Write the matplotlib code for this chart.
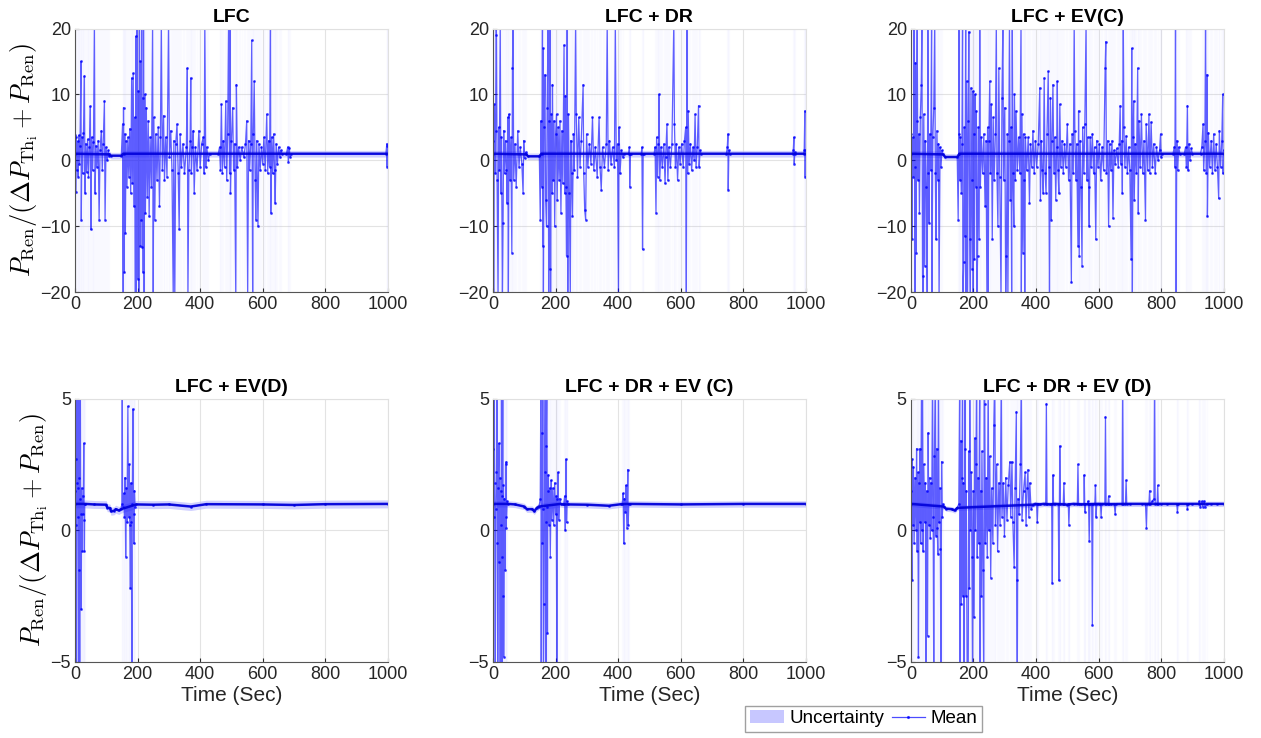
import numpy as np
import matplotlib.pyplot as plt
from matplotlib.patches import Patch
from matplotlib.lines import Line2D

plt.rcParams['font.family'] = ['Liberation Sans', 'DejaVu Sans']
plt.rcParams['mathtext.fontset'] = 'cm'

# ======================== data ========================
# (time, value) points of the mean curve inside the noisy bursts
lfc_pts = [(1,3.8),(2,-4.8),(4,3.5),(6,-1.5),(8,2.9),(10,-2.5),(12,3.8),(14,-0.5),(16,2.2),(19,15.0),
           (20,-9.0),(22,3.5),(24,-2.0),(27,4.2),(30,12.8),(32,-5.0),(34,2.5),(37,-1.8),(40,3.2),(43,-2.5),
           (46,2.0),(49,8.2),(51,-10.5),(53,3.5),(56,-1.5),(59,2.8),(62,21),(64,-5.0),(67,2.2),(70,-1.0),
           (74,3.0),(77,-9.0),(80,1.5),(84,4.5),(87,-1.5),(90,2.5),(94,9.0),(96,-9.0),(99,2.0),(103,0.0),
           (106,1.5),(109,0.6),
           (152,5.5),(154,-21),(155,8.0),(157,-17),(159,4.0),(161,-11),(163,3.0),(166,-4.0),(169,3.5),(172,-2.5),
           (175,4.8),(178,-5.0),(181,12.5),(183,-3.5),(186,13.2),(188,-7.0),(191,6.5),(193,-21),(194,18.8),(196,-21),
           (198,21),(200,-18),(202,10.5),(204,-21),(206,21),(208,-13),(209,15.0),(211,-9.0),(213,21),(215,-13.2),
           (216,9.5),(218,-17.0),(219,21),(221,-21),(223,10.0),(225,-8.0),(228,8.0),(231,-5.5),(234,6.0),(237,-8.5),
           (240,3.5),(244,-4.0),(248,21),(250,-21),(252,6.5),(255,-9.0),(258,4.0),(262,-3.0),(266,5.0),(270,-7.0),
           (273,3.5),(276,21),(279,-1.5),(283,6.8),(286,-3.0),(290,3.5),(294,-2.5),(299,21),(302,0.5),(306,4.5),
           (310,-1.5),(314,-21),(316,3.0),(319,-21),(322,2.5),(326,5.5),(330,-2.0),(333,-10.5),(336,4.0),(340,-1.0),
           (345,2.5),(350,-2.0),(356,2.0),(359,14.0),(361,-21),(364,-1.5),(368,3.0),(370,12.5),(372,-2.0),(375,2.0),
           (378,4.5),(381,-5.0),(385,2.0),(390,-1.5),(396,4.5),(400,-1.0),(405,2.5),(410,3.5),(413,-2.0),(415,21),
           (418,-1.0),(421,2.0),(426,0.0),
           (462,2.0),(465,-1.5),(468,8.5),(471,-2.0),(474,3.0),(478,-1.0),(482,9.0),(485,-3.0),(488,4.0),(491,21),
           (494,-2.0),(496,21),(497,-5.0),(500,3.0),(504,8.0),(507,-1.5),(510,2.5),(514,-21),(516,11.5),(519,-1.0),
           (523,2.0),(528,0.0),(533,2.0),(540,0.5),(545,2.5),(549,6.0),(552,-21),(555,3.0),(558,-1.5),(562,2.5),
           (565,18.2),(568,-21),(570,4.0),(573,12.0),(576,-3.0),(578,-9.0),(581,3.0),(585,-10.0),(588,2.5),(592,-1.5),
           (596,2.0),(600,-0.5),(604,3.5),(608,-1.5),(613,7.0),(616,-2.0),(619,3.0),(622,-1.0),(625,21),(626,-8.0),
           (629,3.5),(632,-2.0),(635,4.0),(638,-1.5),(640,-6.5),(643,2.5),(647,-0.5),(651,2.0),(655,0.5),(658,1.5),
           (680,2.0),(682,-0.2),(685,1.8),(688,0.5),(997,2.5),(998,-1.0),(999,2.2)]
lfc_base = [(0,1.0),(110,0.9),(115,0.7),(148,0.7),(155,1.0),(430,1.0),(458,1.0),(662,1.0),(676,1.0),(692,1.0),(994,1.0),(1000,1.0)]

dr_pts = [(1,3.0),(2,-21),(4,8.5),(6,-2.0),(8,4.5),(10,21),(11,19.0),(13,-3.0),(16,-21),(18,5.0),
          (20,-1.5),(23,21),(25,-5.0),(27,3.5),(30,-21),(32,-9.5),(34,4.5),(37,-2.0),(40,3.0),(43,-1.5),
          (45,-6.5),(47,6.5),(49,-21),(51,7.0),(54,-3.0),(57,3.5),(60,-14.0),(62,14.0),(64,21),(66,-3.0),
          (70,2.5),(74,-4.0),(79,4.5),(83,-1.0),(87,2.0),(92,-0.5),(96,-5.0),(98,3.0),(101,0.3),(104,1.2),
          (151,-9.0),(153,6.0),(156,-4.0),(158,21),(159,-13.0),(160,17.0),(161,-21),(163,5.0),(166,13.0),(168,-6.0),
          (171,-10.0),(173,8.0),(176,21),(178,-21),(179,6.0),(181,-16.5),(182,21),(184,-21),(186,7.0),(188,-5.0),
          (190,11.5),(192,-3.0),(195,6.0),(197,-10.0),(200,4.0),(203,7.0),(205,-6.0),(208,5.0),(211,-3.0),(214,6.0),
          (217,-8.0),(220,4.5),(223,-3.5),(227,17.5),(229,-5.0),(231,9.8),(233,-4.0),(235,-14.5),(237,21),(239,-21),
          (241,7.0),(244,-5.0),(247,-21),(249,3.0),(251,-2.0),(254,-8.5),(257,4.0),(260,-1.5),(264,21),(266,7.0),
          (270,-2.5),(274,6.5),(278,-1.0),(282,3.0),(288,11.5),(290,-2.0),(293,-7.5),(296,-9.0),(299,4.0),(303,-1.0),
          (308,2.5),(313,-0.5),(318,6.5),(322,-1.5),(327,2.0),(333,-2.5),(339,6.5),(342,-1.0),(346,-4.5),(350,2.0),
          (356,-1.0),(362,2.5),(365,21),(368,-1.5),(372,3.0),(377,-0.5),(382,2.0),(388,-1.0),(391,21),(394,0.0),
          (398,2.5),(401,-21),(403,5.0),(406,-2.0),(410,1.5),(415,0.5),
          (436,2.0),(437,-4.0),(439,1.0),(476,2.0),(478,-13.5),(480,1.0),
          (518,2.0),(521,-8.0),(523,3.5),(526,-2.5),(529,2.5),(531,10.0),(533,-3.0),(537,2.0),(541,-1.0),(546,2.5),
          (550,-3.5),(552,0.5),(556,5.5),(559,-3.0),(562,2.0),(567,-1.0),(572,2.5),(578,21),(580,5.5),(583,-1.0),
          (586,2.5),(590,-3.0),(594,2.0),(598,-0.5),(603,2.5),(608,-1.0),(612,3.0),(616,5.0),(618,-21),(620,21),
          (622,-2.0),(624,7.5),(627,-0.5),(631,2.5),(635,-1.5),(639,2.0),(643,0.0),(646,7.0),(649,-1.0),(653,2.0),
          (657,8.3),(659,-1.0),(662,1.5),
          (749,2.0),(751,4.0),(752,-4.5),(754,1.5),
          (960,1.5),(962,3.5),(963,-0.5),(965,1.2),(995,1.5),(997,7.5),(998,-2.5),(999,1.5)]
dr_base = [(0,1.0),(106,0.9),(112,0.6),(148,0.6),(155,1.0),(418,1.0),(434,1.0),(441,1.0),(474,1.0),(482,1.0),(515,1.0),
           (665,1.0),(746,1.0),(757,1.0),(958,1.0),(967,1.0),(993,1.0),(1000,1.0)]

evc_pts = [(1,4.0),(3,-12.0),(5,3.5),(8,-2.5),(10,21),(12,-1.0),(13,-21),(14,14.8),(16,-14.0),(18,6.0),
           (20,21),(22,-3.0),(25,4.0),(27,-8.0),(30,6.5),(33,11.5),(35,21),(37,-17.5),(39,-21),(41,7.0),
           (44,-16.0),(46,3.0),(49,-4.0),(52,-21),(54,21),(56,-2.0),(58,-9.5),(60,4.0),(63,-1.5),(66,21),
           (67,-21),(70,3.5),(73,8.0),(76,21),(78,-2.0),(80,-12.0),(83,4.5),(86,-3.0),(88,2.5),(90,-21),
           (93,2.0),(96,-1.0),(99,1.5),
           (151,-9.0),(153,4.0),(154,21),(156,-3.0),(158,3.5),(161,-5.0),(163,2.5),(165,21),(166,-21),(169,-15.5),
           (171,5.0),(173,-11.5),(175,21),(176,-21),(178,12.0),(181,-21),(183,6.0),(185,19.5),(188,-12.0),(190,-21),
           (192,11.0),(194,-3.0),(196,-16.5),(198,10.5),(199,-21),(201,4.0),(203,-15.0),(205,10.0),(207,-4.0),(209,7.5),
           (211,-21),(213,-14.5),(215,5.0),(218,-12.0),(220,21),(222,-4.0),(225,3.5),(229,-2.0),(233,4.0),(237,-7.0),
           (240,3.0),(243,-21),(245,5.0),(247,-21),(249,3.0),(252,12.0),(254,-2.0),(257,8.5),(260,-12.0),(263,6.5),
           (266,-3.0),(270,4.0),(273,21),(275,-2.0),(278,-10.0),(281,14.0),(284,-2.5),(288,-21),(291,9.5),(294,21),
           (296,-3.0),(300,8.0),(303,-21),(305,-14.5),(308,4.0),(310,-21),(313,3.0),(315,21),(318,-6.0),(320,5.0),
           (322,-21),(324,21),(326,-2.0),(329,-10.0),(331,10.0),(334,-3.0),(336,7.5),(340,-1.5),(344,3.5),(348,-2.0),
           (352,21),(353,-21),(355,7.0),(358,-14.0),(360,4.0),(362,-3.0),(364,-21),(366,3.5),(370,-1.5),(375,3.5),
           (379,-6.5),(382,2.5),(386,-1.0),(390,4.5),(394,-2.0),(398,3.0),(402,-1.0),(407,2.5),(412,11.0),(414,-6.0),
           (417,3.0),(420,-1.5),(423,-5.0),(426,12.5),(429,-2.0),(432,-5.0),(435,4.0),(439,13.5),(441,-1.0),(443,-21),
           (446,9.5),(449,-9.0),(451,3.0),(454,11.5),(457,-2.0),(460,3.5),(463,-6.0),(466,2.0),(468,12.0),(470,-1.5),
           (473,-5.0),(476,8.5),(479,-1.0),(483,3.0),(487,-2.0),(491,2.5),(495,-1.0),(500,5.5),(504,-3.0),(508,2.5),
           (513,-18.5),(515,4.0),(519,-2.0),(522,21),(524,4.5),(527,-3.0),(530,2.5),(534,-13.0),(536,7.5),(538,-14.5),
           (541,3.0),(544,-4.0),(547,-16.0),(549,5.0),(553,-2.0),(556,5.5),(560,21),(562,-3.0),(565,3.5),(568,-4.0),
           (570,-10.0),(573,3.5),(576,-1.0),(580,4.0),(584,-2.0),(587,2.0),(591,-12.0),(594,3.0),(598,-1.0),(602,2.5),
           (607,-3.0),(611,2.0),(616,-1.5),(621,14.0),(623,18.0),(625,-2.0),(629,3.0),(632,-10.0),(635,2.5),(639,-1.5),
           (643,3.0),(646,-8.8),(649,1.5),(653,-0.5),(658,1.8),(663,-1.0),(666,2.5),(669,8.3),(671,-0.5),(674,3.0),
           (676,-5.0),(679,21),(681,5.0),(684,-1.0),(688,3.7),(692,-2.0),(696,2.0),(700,-1.5),(704,-15.0),(706,17.0),
           (708,-21),(710,3.5),(712,9.0),(714,-6.0),(717,2.5),(721,-2.0),(725,14.0),(727,-8.0),(729,6.0),(733,-1.0),
           (737,7.0),(741,-2.0),(745,3.0),(750,-9.0),(752,5.5),(757,-1.5),(761,7.0),(764,-2.0),(768,5.8),(772,-1.0),
           (776,2.5),(781,-2.0),(785,2.0),(790,0.0),(795,1.5),(798,4.0),(800,0.5),
           (842,2.0),(844,-1.0),(846,21),(848,-21),(850,3.0),(853,-1.5),(856,2.0),
           (878,2.0),(881,-1.0),(884,8.3),(886,-1.5),(889,2.5),(892,0.0),(896,1.8),
           (930,2.0),(934,5.5),(936,-1.5),(940,3.0),(942,21),(944,-2.0),(947,13.0),(948,-8.5),(951,4.2),(955,-1.0),
           (960,3.0),(964,-2.0),(968,4.0),(972,-1.5),(976,2.5),(980,-1.0),(984,-5.8),(986,4.5),(990,-1.0),(994,3.0),
           (997,10.0),(998,-2.0),(1000,1.5)]
evc_base = [(0,1.0),(102,0.9),(110,0.5),(148,0.5),(155,1.0),(803,1.0),(838,1.0),(860,1.0),(874,1.0),(900,1.0),(926,1.0),(1000,1.0)]

evd_pts = [(1,1.5),(2,2.7),(3,0.2),(4,-6),(5,1.8),(6,6),(8,0.5),(9,1.6),(11,-6),(12,2.0),
           (13,6),(14,-1.5),(15,-6),(16,1.2),(17,6),(18,0.6),(20,-3.0),(21,1.6),(23,-0.8),(24,1.3),
           (26,0.6),(28,3.3),(29,0.4),(30,-0.8),(31,1.0),
           (150,1.0),(151,6),(152,0.9),(155,1.4),(158,0.5),(160,2.0),(162,-1.0),(164,1.6),(166,0.3),(169,4.7),
           (171,0.5),(173,2.5),(175,0.2),(177,-2.2),(179,1.8),(180,0.3),(182,-6),(183,1.0),(185,4.6),(187,0.6),
           (188,-0.5),(190,1.5),(192,0.9)]
evd_base = [(0,1.0),(33,1.0),(60,0.98),(100,0.97),(103,0.86),(112,0.84),(115,0.72),(125,0.74),(130,0.8),(140,0.75),(147,0.8),
            (196,0.98),(250,0.97),(300,0.98),(370,0.9),(420,0.99),(600,0.98),(700,0.96),(800,0.99),(1000,1.0)]

drevc_pts = [(0,3.1),(2,0.5),(4,6),(5,1.8),(7,-6),(9,0.8),(11,2.2),(13,6),(14,-0.5),(15,-6),
             (17,1.6),(19,3.3),(20,-1.2),(21,2.0),(23,-6),(24,1.5),(26,0.2),(27,6),(28,-1.0),(29,-6),
             (30,1.3),(31,6),(32,-2.5),(33,1.7),(34,-4.8),(36,1.2),(38,-1.5),(40,2.5),(41,0.1),(42,2.6),
             (43,0.5),(45,1.1),
             (151,1.2),(153,6),(154,-6),(156,3.7),(157,-0.5),(159,6),(160,0.8),(161,-6),(163,-2.8),(165,2.2),
             (167,6),(168,0.3),(169,-6),(170,3.2),(172,6),(173,0.9),(174,-3.9),(175,1.5),(177,2.1),(179,0.2),
             (181,1.6),(183,-1.0),(186,1.9),(188,0.4),(191,1.6),(194,0.2),(197,1.8),(200,0.6),(202,1.3),(204,-5.2),
             (206,1.2),(208,2.2),(210,0.4),(213,1.2),
             (226,1.0),(229,1.3),(231,0.0),(233,2.7),(235,0.3),(237,1.1),
             (413,1.0),(416,1.4),(418,-0.5),(420,1.2),(423,0.7),(425,1.7),(428,0.1),(431,2.3),(432,0.2),(434,1.0)]
drevc_base = [(0,1.0),(48,1.0),(70,0.98),(100,0.9),(108,0.8),(125,0.8),(132,0.72),(140,0.85),(147,0.9),
              (216,1.0),(223,0.98),(240,0.98),(300,0.97),(370,0.93),(410,0.99),(437,1.0),(600,0.98),(800,1.0),(1000,1.0)]

drevd_pts = [(1,1.5),(3,-1.9),(4,2.7),(6,0.2),(8,2.4),(10,-0.5),(13,2.0),(16,0.0),(18,3.1),(20,-0.8),
             (22,2.2),(24,-4.8),(26,1.8),(28,0.3),(29,3.1),(31,-0.5),(34,6),(35,0.0),(37,6),(39,-0.8),
             (41,2.5),(44,0.3),(46,1.8),(48,-6),(50,1.5),(53,-4.0),(55,3.7),(57,0.2),(60,2.0),(62,-0.3),
             (64,1.8),(66,0.0),(69,6),(71,0.5),(73,-6),(75,2.8),(78,6),(80,-0.2),(82,3.1),(84,0.1),
             (86,-0.9),(88,6),(90,0.3),(92,1.6),(94,-0.7),(96,-6),(98,2.6),(100,0.5),(102,1.0),
             (153,1.0),(156,6),(157,-6),(159,3.4),(161,-2.8),(163,2.0),(165,6),(166,-2.5),(168,1.8),(170,-6),
             (172,3.1),(173,6),(175,-2.5),(177,1.5),(180,-6),(183,-6),(185,3.0),(187,-2.2),(188,6),(190,0.0),
             (193,2.2),(195,-1.0),(197,-6),(199,1.5),(202,-3.3),(204,3.5),(206,0.0),(208,2.5),(210,6),(212,-1.0),
             (215,2.0),(217,-0.5),(220,6),(221,-6),(223,1.5),(225,-2.5),(227,3.0),(230,-1.5),(233,-6),(234,6),
             (236,4.8),(238,-0.5),(241,2.0),(244,-1.0),(247,6),(249,0.0),(252,2.8),(255,-1.8),(258,1.6),(262,-0.5),
             (265,4.0),(268,6),(270,0.2),(274,2.5),(277,-0.8),(281,1.8),(285,0.2),(289,6),(291,0.5),(295,1.8),
             (299,-0.2),(303,2.0),(307,0.4),(311,1.7),(316,2.6),(319,0.5),(323,2.6),(326,0.3),(330,-1.4),(333,1.6),
             (337,4.5),(338,-1.9),(340,-6),(342,1.2),(346,0.6),(350,2.5),(353,6),(355,0.4),(360,1.5),(365,2.2),
             (368,0.2),(371,1.6),(374,2.3),(377,0.5),(380,1.8),(384,0.8),
             (402,1.0),(404,0.3),(406,1.0),(431,1.0),(433,4.8),(435,1.0),(450,1.0),(452,-2.0),(454,2.1),(456,1.0),
             (471,1.0),(473,-1.9),(476,3.2),(478,1.0),(487,1.0),(489,1.8),(491,1.0),(503,1.0),(505,0.2),(507,1.0),
             (532,1.0),(534,2.5),(536,1.0),(553,1.0),(554,2.1),(556,0.7),(558,1.0),(565,1.0),(566,1.1),(568,1.0),
             (570,-0.4),(572,1.0),(578,1.0),(580,-3.6),(582,1.0),(588,1.0),(590,1.7),(592,0.5),(594,1.0),(606,1.0),
             (608,0.5),(610,1.0),(620,1.0),(622,4.3),(624,1.0),(630,1.0),(632,1.3),(634,1.0),(650,1.0),(653,0.6),
             (655,1.0),(675,1.0),(677,6),(679,1.0),(686,1.0),(688,1.9),(690,1.0),(750,1.0),(753,0.1),(755,1.0),
             (761,1.0),(763,1.5),(765,1.0),(772,1.1),(777,1.2),(779,6),(781,1.0),(787,1.0),(789,1.7),(791,1.0),
             (850,1.0),(852,0.7),(854,1.0),(882,1.0),(884,0.8),(886,1.0),(920,1.0),(922,1.1),(925,0.9),(930,1.1),
             (933,0.9),(938,1.1),(940,0.9),(948,1.0)]
drevd_base = [(0,1.0),(105,0.9),(112,0.82),(130,0.8),(140,0.75),(148,0.85),(390,0.97),(398,1.0),(412,0.98),(425,1.0),
              (445,0.98),(460,1.0),(500,0.97),(520,1.0),(545,0.98),(600,1.0),(640,0.99),(700,1.0),(740,1.0),
              (800,1.0),(820,1.0),(900,1.0),(960,1.0),(980,1.0),(1000,1.0)]

# uncertainty: half-width of the pale band round the settled mean
band_quiet = [0.5, 0.5, 0.5, 0.15, 0.12, 0.1]

titles = ['LFC', 'LFC + DR', 'LFC + EV(C)', 'LFC + EV(D)', 'LFC + DR + EV (C)', 'LFC + DR + EV (D)']
pts_all = [lfc_pts, dr_pts, evc_pts, evd_pts, drevc_pts, drevd_pts]
base_all = [lfc_base, dr_base, evc_base, evd_base, drevc_base, drevd_base]

# ============================== layout ==============================
lefts = [0.0595, 0.391, 0.7224]
bottoms = [0.6043, 0.103]
w, h = 0.248, 0.357

line_col = (0.0, 0.0, 1.0)
band_col = (0.72, 0.72, 1.0)
ylab = r'$P_{\mathrm{Ren}}/(\Delta P_{\mathrm{Th_i}}+P_{\mathrm{Ren}})$'

fig = plt.figure(figsize=(12.61, 7.38), dpi=100)

for k in range(6):
    row, col = divmod(k, 3)
    ax = fig.add_axes([lefts[col], bottoms[row], w, h])
    ylim = 20 if row == 0 else 5

    # every sample of the mean curve, burst points and settled points together
    merged = sorted(pts_all[k] + base_all[k])
    t = np.array([m[0] for m in merged])
    y = np.array([m[1] for m in merged])
    bt = np.array([b[0] for b in base_all[k]])
    by = np.array([b[1] for b in base_all[k]])
    st = np.array([p[0] for p in pts_all[k]])

    # uncertainty: faint full-height stripes at the burst samples + pale band
    ax.vlines(st, -ylim, ylim, color=band_col, lw=0.8, alpha=0.05)
    ax.fill_between(t, y - band_quiet[k], y + band_quiet[k], color=band_col, alpha=0.2, lw=0)
    ax.fill_between(bt, by - band_quiet[k], by + band_quiet[k], color=band_col, alpha=0.55, lw=0)

    ax.plot(t, y, color=line_col, lw=0.9, alpha=0.62, marker='.', ms=2.2)
    ax.plot(bt, by, color=(0.0, 0.0, 0.85), lw=1.8, alpha=0.9)

    ax.set_xlim(0, 1000)
    ax.set_ylim(-ylim, ylim)
    if row == 0:
        ax.set_yticks([-20, -10, 0, 10, 20])
    else:
        ax.set_yticks([-5, 0, 5])
        ax.set_xlabel('Time (Sec)', fontsize=15, color='#262626', labelpad=2)
    ax.set_xticks([0, 200, 400, 600, 800, 1000])
    ax.grid(True, color='#e3e3e3', lw=0.8)
    ax.set_axisbelow(True)
    ax.tick_params(labelsize=13, colors='#262626', length=3, direction='in', pad=3)
    for s in ['top', 'right']:
        ax.spines[s].set_color('#e0e0e0')
    for s in ['left', 'bottom']:
        ax.spines[s].set_color('#555555')
    ax.set_title(titles[k], fontsize=14, fontweight='bold', pad=5)
    if col == 0:
        ax.set_ylabel(ylab, fontsize=19, labelpad=0)

handles = [Patch(facecolor=(0.78, 0.78, 1.0), edgecolor='none'),
           Line2D([], [], color=line_col, lw=0.9, alpha=0.7, marker='.', ms=2.5)]
fig.legend(handles, ['Uncertainty', 'Mean'], loc='center', bbox_to_anchor=(0.685, 0.026),
           ncol=2, fontsize=13.5, frameon=True, fancybox=False, edgecolor='#888888',
           handlelength=1.8, handletextpad=0.3, columnspacing=0.4, borderpad=0.25)

fig.savefig('out.png', dpi=100)
